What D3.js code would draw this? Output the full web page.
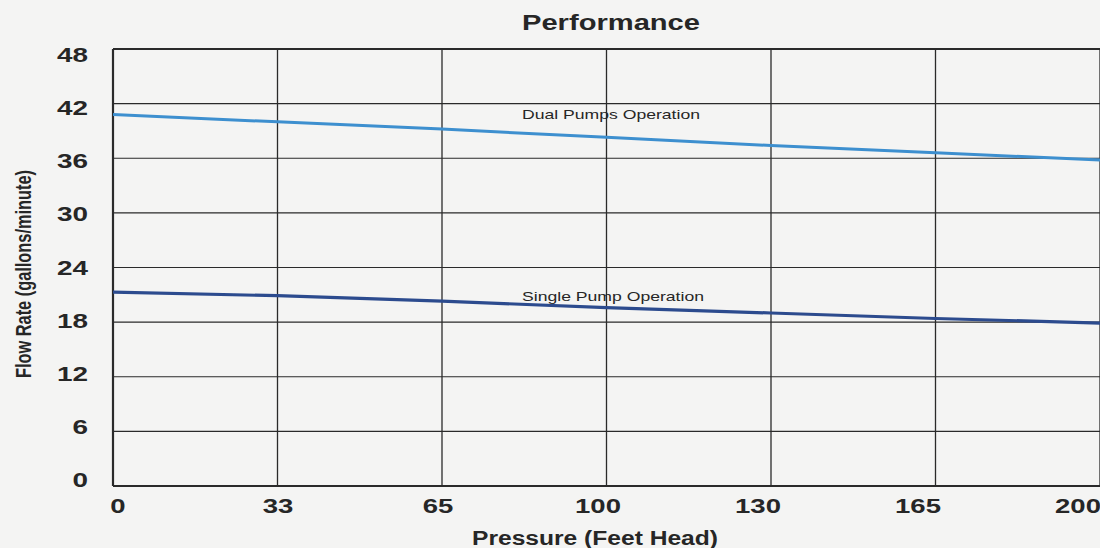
<!DOCTYPE html>
<html><head><meta charset="utf-8">
<script src="https://cdn.jsdelivr.net/npm/d3@7/dist/d3.min.js"></script>
<style>body{margin:0;background:#f4f4f3}svg{display:block}</style>
</head><body>
<svg id="c" width="1100" height="548"></svg>
<script>
const pressure = ["0","33","65","100","130","165","200"];
const dualPumps = [40.8, 40.0, 39.2, 38.3, 37.4, 36.6, 35.8];
const singlePump = [21.3, 20.9, 20.3, 19.6, 19.0, 18.4, 17.9];
const yTicks = [0, 6, 12, 18, 24, 30, 36, 42, 48];

const svg = d3.select("#c");
const L = 113, R = 1100, T = 49, B = 486;
const x = d3.scalePoint().domain(pressure).range([L, R]);
const y = d3.scaleLinear().domain([0, 48]).range([B, T]);
// label placement scales (labels in the original drift slightly from the grid)
const xLab = d3.scalePoint().domain(pressure).range([118, 1078]);
const yLab = d3.scaleLinear().domain([0, 48]).range([480, 55]);

const g = svg.append("g");
g.selectAll(".hg").data(yTicks).join("line")
  .attr("x1", L).attr("x2", R + 2).attr("y1", d => y(d)).attr("y2", d => y(d))
  .attr("stroke", "#2a2a2a").attr("stroke-width", d => (d === 0 || d === 48) ? 1.8 : 1.2);
g.selectAll(".vg").data(pressure).join("line")
  .attr("x1", d => x(d)).attr("x2", d => x(d)).attr("y1", T).attr("y2", B)
  .attr("stroke", "#2a2a2a").attr("stroke-width", (d, i) => i === 0 ? 2.2 : 1.3);

const line = d3.line().x((d, i) => x(pressure[i])).y(d => y(d));
svg.append("path").datum(dualPumps).attr("d", line)
  .attr("fill", "none").attr("stroke", "#3d8fcf").attr("stroke-width", 3);
svg.append("path").datum(singlePump).attr("d", line)
  .attr("fill", "none").attr("stroke", "#2c4b8e").attr("stroke-width", 3.2);

const font = "'Liberation Sans', Arial, Helvetica, sans-serif";
const col = "#262626";
svg.selectAll(".yt").data(yTicks).join("text")
  .attr("x", 88).attr("y", d => yLab(d) + 7)
  .attr("text-anchor", "end").attr("font-family", font).attr("font-weight", "bold")
  .attr("font-size", 20).attr("fill", col)
  .attr("textLength", d => String(d).length * 15.5).attr("lengthAdjust", "spacingAndGlyphs")
  .text(d => d);
svg.selectAll(".xt").data(pressure).join("text")
  .attr("x", d => xLab(d)).attr("y", 513)
  .attr("text-anchor", "middle")
  .attr("font-family", font).attr("font-weight", "bold")
  .attr("font-size", 20).attr("fill", col)
  .attr("textLength", d => d.length * 15.3).attr("lengthAdjust", "spacingAndGlyphs")
  .text(d => d);

svg.append("text").attr("x", 611).attr("y", 30).attr("text-anchor", "middle")
  .attr("font-family", font).attr("font-weight", "bold").attr("font-size", 22)
  .attr("textLength", 178).attr("lengthAdjust", "spacingAndGlyphs")
  .attr("fill", col).text("Performance");
svg.append("text").attr("x", 595).attr("y", 545).attr("text-anchor", "middle")
  .attr("font-family", font).attr("font-weight", "bold").attr("font-size", 20)
  .attr("textLength", 246).attr("lengthAdjust", "spacingAndGlyphs")
  .attr("fill", col).text("Pressure (Feet Head)");
svg.append("text").attr("transform", "translate(31,274) rotate(-90)")
  .attr("text-anchor", "middle")
  .attr("font-family", font).attr("font-weight", "600")
  .attr("font-size", 22).attr("fill", col)
  .attr("textLength", 208).attr("lengthAdjust", "spacingAndGlyphs")
  .text("Flow Rate (gallons/minute)");

svg.append("text").attr("x", 522).attr("y", 119).attr("font-family", font)
  .attr("font-size", 13.5).attr("fill", col)
  .attr("textLength", 178).attr("lengthAdjust", "spacingAndGlyphs")
  .text("Dual Pumps Operation");
svg.append("text").attr("x", 522).attr("y", 301).attr("font-family", font)
  .attr("font-size", 13.5).attr("fill", col)
  .attr("textLength", 182).attr("lengthAdjust", "spacingAndGlyphs")
  .text("Single Pump Operation");
</script>
</body></html>
